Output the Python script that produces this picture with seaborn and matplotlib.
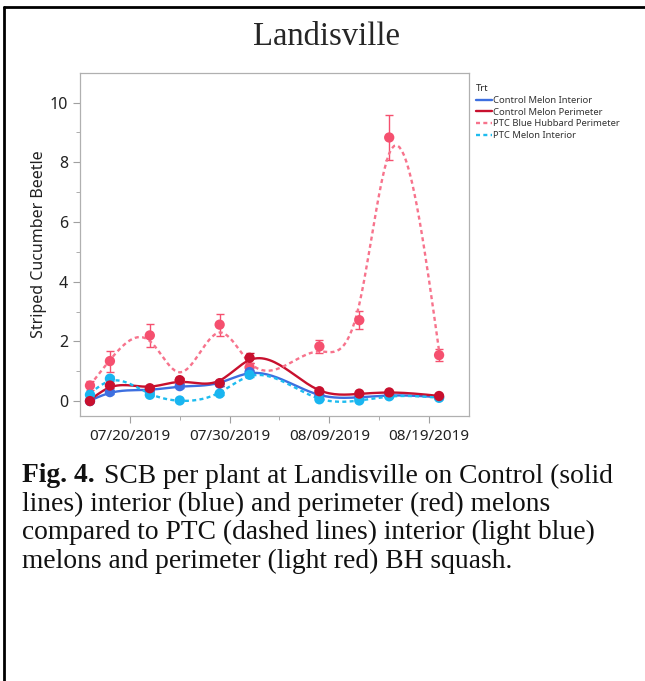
import matplotlib
matplotlib.use('Agg')
import matplotlib.pyplot as plt
import matplotlib.dates as mdates
import numpy as np
import pandas as pd
import seaborn as sns
from matplotlib.lines import Line2D

# -----------------------------------------------------------------------------
#         Data
# -----------------------------------------------------------------------------
dates = pd.to_datetime(['2019-07-16', '2019-07-18', '2019-07-22', '2019-07-25',
                        '2019-07-29', '2019-08-01', '2019-08-08', '2019-08-12',
                        '2019-08-15', '2019-08-20'])

trts = ['Control Melon Interior', 'Control Melon Perimeter',
        'PTC Blue Hubbard Perimeter', 'PTC Melon Interior']

ctrl_interior = [0.00, 0.30, 0.36, 0.50, 0.58, 0.97, 0.19, 0.13, 0.19, 0.13]
ctrl_perimeter = [0.00, 0.52, 0.43, 0.70, 0.60, 1.45, 0.33, 0.25, 0.29, 0.17]
ptc_bh_perimeter = [0.52, 1.34, 2.20, 0.68, 2.56, 1.13, 1.83, 2.71, 8.83, 1.54]
ptc_interior = [0.21, 0.75, 0.21, 0.02, 0.25, 0.88, 0.06, 0.02, 0.16, 0.11]

ctrl_interior_se = [0.03, 0.06, 0.06, 0.06, 0.06, 0.08, 0.05, 0.04, 0.05, 0.04]
ctrl_perimeter_se = [0.03, 0.08, 0.07, 0.08, 0.08, 0.16, 0.07, 0.06, 0.06, 0.05]
ptc_bh_perimeter_se = [0.15, 0.35, 0.39, 0.08, 0.37, 0.13, 0.22, 0.30, 0.76, 0.20]
ptc_interior_se = [0.05, 0.08, 0.05, 0.02, 0.05, 0.08, 0.03, 0.02, 0.04, 0.04]

means = dict(zip(trts, [ctrl_interior, ctrl_perimeter,
                        ptc_bh_perimeter, ptc_interior]))
ses = dict(zip(trts, [ctrl_interior_se, ctrl_perimeter_se,
                      ptc_bh_perimeter_se, ptc_interior_se]))

line_colors = {'Control Melon Interior': '#3d6fe0',
               'Control Melon Perimeter': '#c8102e',
               'PTC Blue Hubbard Perimeter': '#f7738c',
               'PTC Melon Interior': '#1fbcef'}
marker_colors = {'Control Melon Interior': '#3d6fe0',
                 'Control Melon Perimeter': '#c8102e',
                 'PTC Blue Hubbard Perimeter': '#f5506f',
                 'PTC Melon Interior': '#19b5f0'}
dash_styles = {'Control Melon Interior': '',
               'Control Melon Perimeter': '',
               'PTC Blue Hubbard Perimeter': (1.7, 1.4),
               'PTC Melon Interior': (1.7, 1.4)}
# drawing order of the markers (last one on top)
marker_order = ['PTC Blue Hubbard Perimeter', 'Control Melon Interior',
                'PTC Melon Interior', 'Control Melon Perimeter']


# -----------------------------------------------------------------------------
#         Smoothing spline (penalised fit on a fine grid)
# -----------------------------------------------------------------------------
def smooth(days, y, lam_c=0.55, step=0.25):
    grid = np.arange(days.min(), days.max() + step / 2, step)
    n = grid.size
    idx = np.round((days - days.min()) / step).astype(int)
    w = np.zeros(n)
    yy = np.zeros(n)
    w[idx] = 1.0
    yy[idx] = y
    D = np.diff(np.eye(n), 2, axis=0)
    lam = lam_c / step**3
    z = np.linalg.solve(np.diag(w) + lam * D.T @ D, w * yy)
    return grid, z


days = np.asarray((dates - dates[0]).days, dtype=float)
rows = []
for t in trts:
    g, z = smooth(days, np.asarray(means[t]))
    rows.append(pd.DataFrame({'date': dates[0] + pd.to_timedelta(g, unit='D'),
                              'SCB': z, 'Trt': t}))
curves = pd.concat(rows, ignore_index=True)

pts = pd.DataFrame({'date': np.tile(dates, len(trts)),
                    'SCB': np.concatenate([means[t] for t in trts]),
                    'se': np.concatenate([ses[t] for t in trts]),
                    'Trt': np.repeat(trts, len(dates))})

# -----------------------------------------------------------------------------
#         Plot
# -----------------------------------------------------------------------------
sns.set_style('white')
plt.rcParams['font.family'] = ['Noto Sans', 'DejaVu Sans']

fig = plt.figure(figsize=(6.45, 6.81), dpi=100)
W, H = 645, 681
ax = fig.add_axes([80 / W, 1 - 416 / H, 389 / W, (416 - 72.7) / H])

for t in trts:
    d = pts[pts['Trt'] == t]
    ax.errorbar(d['date'], d['SCB'], yerr=d['se'], fmt='none',
                ecolor=marker_colors[t], elinewidth=1.0, capsize=3,
                capthick=1.0, zorder=2)

sns.lineplot(data=curves, x='date', y='SCB', hue='Trt', style='Trt',
             hue_order=trts, style_order=trts, palette=line_colors,
             dashes=dash_styles, linewidth=1.7, ax=ax, zorder=3)
for i, t in enumerate(marker_order):
    sns.scatterplot(data=pts[pts['Trt'] == t], x='date', y='SCB',
                    color=marker_colors[t], s=55, edgecolor='none',
                    legend=False, ax=ax, zorder=4 + i * 0.1)

ax.set_xlim(pd.Timestamp('2019-07-15'), pd.Timestamp('2019-08-23'))
ax.set_ylim(-0.5, 11)
ax.set_yticks([0, 2, 4, 6, 8, 10])
ax.set_yticks([1, 3, 5, 7, 9], minor=True)
ax.set_xticks(pd.to_datetime(['2019-07-20', '2019-07-30',
                              '2019-08-09', '2019-08-19']))
ax.set_xticks(pd.to_datetime(['2019-07-25', '2019-08-04', '2019-08-14']),
              minor=True)
ax.xaxis.set_major_formatter(mdates.DateFormatter('%m/%d/%Y'))
ax.set_xlabel('')
ax.set_ylabel('Striped Cucumber Beetle', fontsize=11.5, color='#222222',
              labelpad=2)
ax.tick_params(which='both', direction='out', color='#a0a0a0',
               labelcolor='#222222', left=True, bottom=True)
ax.tick_params(axis='y', labelsize=11.5)
ax.tick_params(axis='x', labelsize=11, pad=4)
ax.tick_params(which='major', length=5)
ax.tick_params(which='minor', length=3)
for s in ax.spines.values():
    s.set_color('#b0b0b0')
    s.set_linewidth(0.9)

h, l = ax.get_legend_handles_labels()
leg = ax.legend(h, l, title='Trt', loc='upper left',
                bbox_to_anchor=(1.0, 0.985), frameon=False, fontsize=6.8,
                title_fontsize=6.8, handlelength=1.7, handletextpad=0.15,
                labelspacing=0.28, borderaxespad=0.3, alignment='left')
for txt in leg.get_texts():
    txt.set_color('#333333')

# Title
fig.text(327 / W, 1 - 37 / H, 'Landisville', ha='center', va='center',
         family='Liberation Serif', fontsize=23.5)

# Caption
cap_font = dict(family='Liberation Serif', fontsize=19.8, va='center',
                color='#111111')
bold = fig.text(22 / W, 1 - 476 / H, 'Fig. 4.', fontweight='bold', **cap_font)
fig.canvas.draw()
bb = bold.get_window_extent()
fig.text((bb.x1 + 9) / W, 1 - 476 / H,
         'SCB per plant at Landisville on Control (solid', **cap_font)
caption_lines = ['lines) interior (blue) and perimeter (red) melons',
                 'compared to PTC (dashed lines) interior (light blue)',
                 'melons and perimeter (light red) BH squash.']
for i, line in enumerate(caption_lines):
    fig.text(22 / W, 1 - (504.5 + 28.3 * i) / H, line, **cap_font)

# Page frame (left and top edges)
fig.add_artist(Line2D([4 / W, 4 / W], [0, 1 - 7 / H], color='black',
                      linewidth=2.0, transform=fig.transFigure))
fig.add_artist(Line2D([4 / W, 1], [1 - 7 / H, 1 - 7 / H], color='black',
                      linewidth=2.0, transform=fig.transFigure))

fig.savefig('out.png', dpi=100)
